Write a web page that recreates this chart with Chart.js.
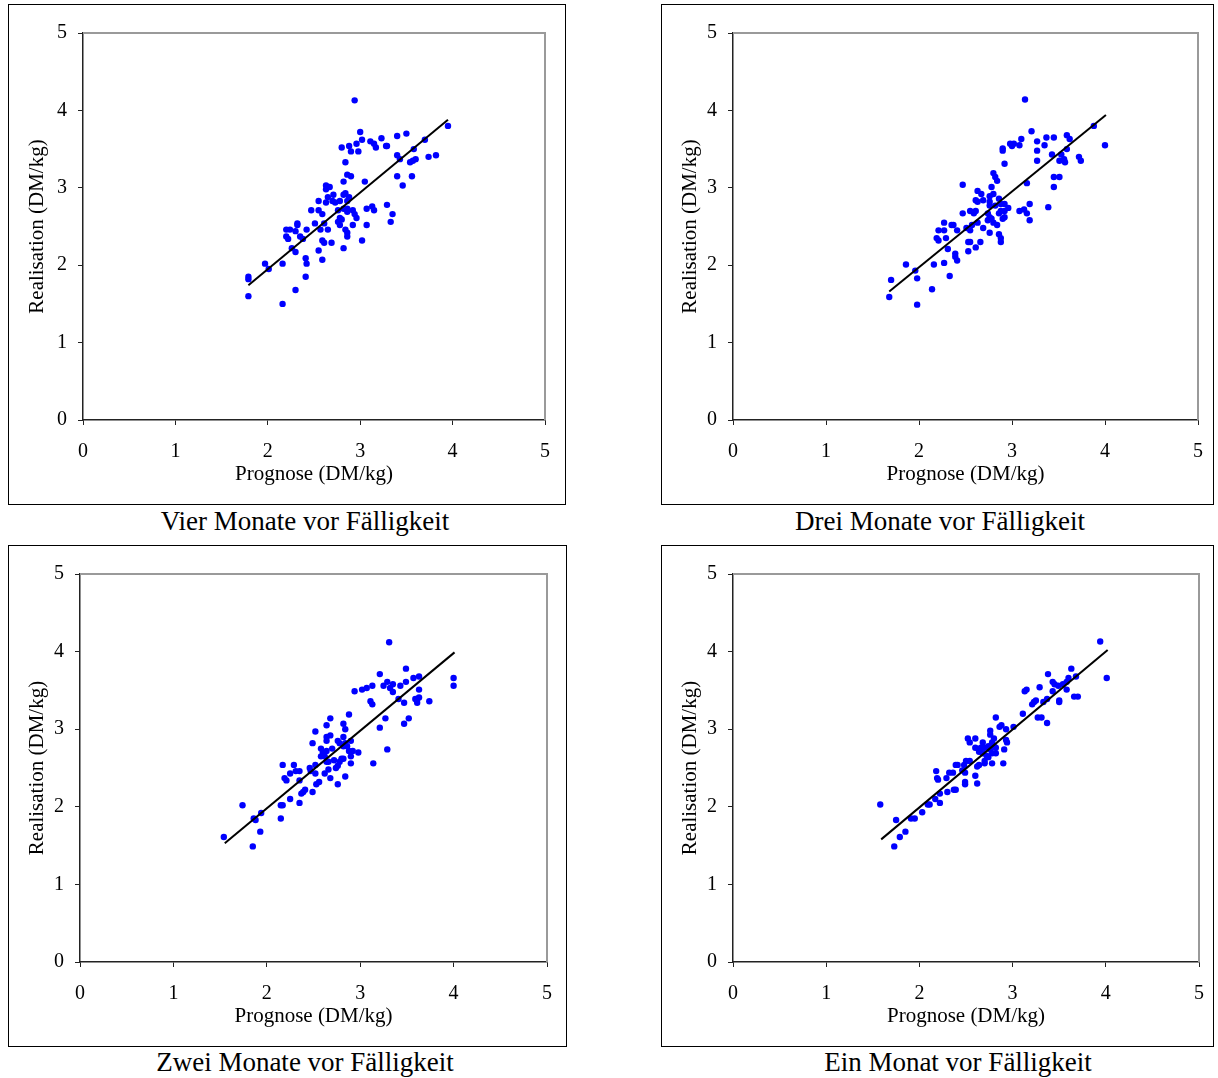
<!DOCTYPE html>
<html>
<head>
<meta charset="utf-8">
<script src="https://cdn.jsdelivr.net/npm/chart.js@4.4.1/dist/chart.umd.min.js"></script>
<style>
  html, body { margin: 0; padding: 0; background: #fff; }
  body { width: 1218px; height: 1078px; position: relative; overflow: hidden; font-family: 'Liberation Serif', 'Times New Roman', serif; }
  .box { position: absolute; border: 1px solid #000; }
  .box canvas { display: block; }
  .cap { position: absolute; font-size: 27px; line-height: 30px; white-space: nowrap; transform: translateX(-50%); color: #000; }
</style>
</head>
<body>
<div class="box" style="left:8px;top:4px;width:556px;height:499px"><canvas id="c1" width="556" height="499"></canvas></div>
<div class="box" style="left:661px;top:4px;width:551px;height:499px"><canvas id="c2" width="551" height="499"></canvas></div>
<div class="box" style="left:8px;top:545px;width:557px;height:500px"><canvas id="c3" width="557" height="500"></canvas></div>
<div class="box" style="left:661px;top:545px;width:551px;height:500px"><canvas id="c4" width="551" height="500"></canvas></div>
<div class="cap" style="left:305px;top:506px">Vier Monate vor Fälligkeit</div>
<div class="cap" style="left:940px;top:506px">Drei Monate vor Fälligkeit</div>
<div class="cap" style="left:305px;top:1047px">Zwei Monate vor Fälligkeit</div>
<div class="cap" style="left:958px;top:1047px">Ein Monat vor Fälligkeit</div>
<script>
// ── Data ────────────────────────────────────────────────────────────────────
const ticks = [0, 1, 2, 3, 4, 5]
const xTitle = 'Prognose (DM/kg)'
const yTitle = 'Realisation (DM/kg)'

// Vier Monate vor Fälligkeit
const vierX = [2.94,3.00,2.80,2.88,2.96,3.02,2.90,2.98,3.11,3.15,3.17,3.23,3.28,3.29,3.40,3.50,3.70,3.95,3.40,3.43,3.58,3.54,3.57,3.60,3.74,3.82,2.84,3.40,3.56,3.46,2.86,2.90,2.82,3.05,2.63,2.67,2.63,2.55,2.65,2.71,2.63,2.70,2.73,2.78,2.82,2.84,2.88,2.86,2.47,2.55,2.59,2.76,2.82,2.86,2.86,2.92,2.94,2.96,3.07,3.13,3.15,3.29,3.35,3.33,2.78,2.76,2.80,2.78,2.84,2.86,2.86,2.92,3.07,3.02,2.82,2.51,2.57,2.65,2.61,2.20,2.24,2.32,2.32,2.30,2.42,2.20,2.22,2.35,2.38,2.59,2.61,2.69,2.26,2.30,2.55,2.41,2.42,2.59,1.97,2.16,2.01,1.79,1.79,2.41,2.30,1.79,2.16]
const vierY = [4.13,3.72,3.52,3.54,3.57,3.62,3.47,3.47,3.60,3.57,3.52,3.64,3.54,3.54,3.67,3.70,3.62,3.80,3.42,3.37,3.50,3.33,3.35,3.37,3.40,3.42,3.33,3.15,3.15,3.03,3.17,3.15,3.08,3.08,3.03,3.01,2.98,2.83,2.88,2.91,2.81,2.83,2.81,2.83,2.91,2.93,2.88,2.83,2.71,2.71,2.66,2.71,2.73,2.73,2.69,2.71,2.66,2.61,2.73,2.76,2.71,2.78,2.66,2.56,2.61,2.56,2.59,2.52,2.46,2.42,2.37,2.52,2.52,2.32,2.22,2.54,2.46,2.46,2.54,2.46,2.46,2.54,2.52,2.44,2.46,2.37,2.34,2.37,2.34,2.32,2.29,2.29,2.22,2.17,2.19,2.09,2.02,2.07,2.02,2.02,1.95,1.85,1.82,1.85,1.68,1.60,1.50]
const vierFitX = [1.79, 3.95]
const vierFitY = [1.74, 3.88]

// Drei Monate vor Fälligkeit
const dreiX = [3.14,3.21,2.98,3.00,3.02,3.08,3.10,2.90,2.90,3.27,3.35,3.37,3.45,3.59,3.62,3.88,4.00,3.27,3.27,3.43,3.53,3.59,3.51,3.56,3.57,3.72,3.74,2.92,2.80,2.82,2.84,3.16,3.45,3.51,3.45,3.39,2.47,2.63,2.78,2.67,2.61,2.63,2.69,2.76,2.80,2.86,2.76,2.76,2.82,2.88,2.92,2.96,2.92,2.88,2.86,2.92,2.90,3.08,3.13,3.16,3.19,3.19,2.47,2.55,2.61,2.59,2.74,2.76,2.74,2.78,2.80,2.84,2.63,2.57,2.51,2.55,2.69,2.76,2.86,2.88,2.88,2.35,2.37,2.27,2.21,2.27,2.41,2.19,2.21,2.29,2.53,2.55,2.66,2.61,2.31,2.53,2.39,2.39,2.41,2.27,2.16,1.86,1.96,1.98,2.33,1.70,2.14,1.68,1.98]
const dreiY = [4.14,3.73,3.57,3.54,3.57,3.55,3.63,3.51,3.48,3.60,3.55,3.65,3.65,3.68,3.63,3.80,3.55,3.48,3.35,3.43,3.43,3.50,3.35,3.37,3.33,3.40,3.35,3.31,3.19,3.14,3.09,3.06,3.14,3.14,3.01,2.75,3.04,2.96,3.01,2.92,2.84,2.82,2.84,2.89,2.92,2.86,2.82,2.77,2.77,2.79,2.79,2.74,2.70,2.70,2.67,2.62,2.60,2.70,2.72,2.67,2.79,2.58,2.67,2.70,2.70,2.67,2.67,2.62,2.58,2.60,2.55,2.52,2.55,2.52,2.48,2.45,2.48,2.42,2.40,2.35,2.30,2.52,2.52,2.55,2.45,2.45,2.45,2.35,2.32,2.35,2.30,2.30,2.30,2.23,2.21,2.18,2.15,2.11,2.06,2.03,2.01,2.01,1.93,1.83,1.86,1.81,1.69,1.59,1.49]
const dreiFitX = [1.68, 4.01]
const dreiFitY = [1.66, 3.94]

// Zwei Monate vor Fälligkeit
const zweiX = [3.31,3.49,3.21,3.63,3.57,3.49,3.29,3.35,3.25,3.32,3.35,3.43,3.13,3.07,3.02,2.94,4.00,4.00,3.63,3.63,3.61,3.59,3.61,3.74,3.47,3.41,3.11,3.13,2.88,3.27,3.52,3.47,3.21,3.29,3.14,2.68,2.82,2.64,2.84,2.52,2.68,2.64,2.64,2.49,2.82,2.76,2.78,2.84,2.90,2.86,2.82,2.58,2.70,2.64,2.60,2.58,2.62,2.88,2.92,2.98,2.90,2.82,2.80,2.72,2.64,2.66,2.78,2.90,2.76,2.74,2.66,2.62,2.68,2.84,2.76,2.46,2.52,2.52,2.47,2.17,2.29,2.25,2.31,2.35,2.19,2.21,2.35,2.56,2.53,2.41,2.39,2.37,2.49,2.25,2.35,2.15,2.17,1.74,1.94,1.86,1.88,2.15,1.93,1.54,1.85]
const zweiY = [4.12,3.78,3.71,3.68,3.66,3.61,3.61,3.58,3.56,3.53,3.48,3.56,3.56,3.53,3.51,3.49,3.66,3.56,3.51,3.41,3.39,3.39,3.34,3.36,3.34,3.39,3.36,3.32,3.19,3.14,3.14,3.07,3.02,2.74,2.56,3.14,3.07,3.05,3.00,2.97,2.92,2.90,2.85,2.82,2.90,2.85,2.82,2.82,2.85,2.78,2.78,2.75,2.75,2.72,2.70,2.65,2.65,2.72,2.72,2.70,2.65,2.62,2.62,2.60,2.58,2.58,2.58,2.56,2.53,2.50,2.48,2.43,2.37,2.39,2.29,2.50,2.54,2.43,2.46,2.54,2.54,2.43,2.46,2.46,2.37,2.34,2.34,2.32,2.29,2.22,2.19,2.17,2.19,2.10,2.05,2.02,2.02,2.02,1.92,1.85,1.83,1.85,1.68,1.61,1.49]
const zweiFitX = [1.55, 4.01]
const zweiFitY = [1.53, 3.99]

// Ein Monat vor Fälligkeit
const einX = [3.94,4.01,3.63,3.38,3.60,3.68,3.43,3.45,3.49,3.54,3.58,3.58,3.43,3.29,3.15,3.13,3.37,3.50,3.50,3.66,3.70,3.25,3.23,3.21,3.33,3.11,3.27,3.31,3.37,2.82,2.88,2.86,2.93,3.01,2.76,2.76,2.52,2.60,2.54,2.68,2.80,2.78,2.94,2.93,2.60,2.66,2.70,2.74,2.80,2.82,2.76,2.64,2.68,2.78,2.82,2.91,2.72,2.74,2.70,2.78,2.70,2.90,2.50,2.54,2.41,2.39,2.48,2.64,2.62,2.46,2.49,2.32,2.36,2.18,2.60,2.29,2.19,2.20,2.49,2.49,2.62,2.39,2.37,2.30,2.22,2.22,2.17,2.11,2.09,2.03,1.91,1.95,1.75,1.85,1.79,1.73,1.58]
const einY = [4.13,3.66,3.78,3.71,3.66,3.68,3.61,3.58,3.56,3.58,3.61,3.51,3.49,3.54,3.51,3.49,3.39,3.37,3.35,3.42,3.42,3.37,3.35,3.32,3.35,3.20,3.15,3.15,3.08,3.15,3.05,3.03,3.00,3.03,2.98,2.93,2.88,2.88,2.83,2.83,2.88,2.83,2.83,2.86,2.76,2.76,2.76,2.78,2.78,2.76,2.74,2.71,2.69,2.69,2.69,2.74,2.66,2.64,2.59,2.56,2.56,2.56,2.59,2.59,2.54,2.54,2.54,2.54,2.52,2.47,2.44,2.44,2.44,2.46,2.40,2.37,2.37,2.35,2.32,2.29,2.30,2.22,2.22,2.19,2.17,2.05,2.10,2.03,2.03,1.93,1.85,1.85,1.83,1.68,1.61,1.49,2.03]
const einFitX = [1.59, 4.02]
const einFitY = [1.58, 4.02]

// ── Chart setup ─────────────────────────────────────────────────────────────
const FONT = "'Liberation Serif', 'Times New Roman', serif"

// gray frame on top and right of the plot area, like the original
const frame = {
  id: 'frame',
  afterDatasetsDraw(chart) {
    const { ctx, chartArea: a } = chart
    ctx.save()
    ctx.strokeStyle = '#9a9a9a'
    ctx.lineWidth = 2
    ctx.beginPath()
    ctx.moveTo(a.left, a.top)
    ctx.lineTo(a.right, a.top)
    ctx.lineTo(a.right, a.bottom)
    ctx.stroke()
    ctx.restore()
  }
}

function pairs(xs, ys) {
  return xs.map((x, i) => ({ x, y: ys[i] }))
}

function panel(id, xs, ys, fx, fy, leftW, rightPad) {
  const axisCommon = {
    min: 0, max: 5,
    afterBuildTicks: s => { s.ticks = ticks.map(v => ({ value: v })) },
    grid: { drawOnChartArea: false, drawTicks: true, tickLength: 5, color: '#222', lineWidth: 1 },
    border: { display: true, color: '#222', width: 1.5 }
  }
  const tickFont = { family: FONT, size: 20 }
  new Chart(document.getElementById(id), {
    type: 'scatter',
    data: {
      datasets: [
        {
          data: pairs(fx, fy),
          showLine: true,
          borderColor: '#000',
          borderWidth: 2,
          pointRadius: 0,
          fill: false
        },
        {
          data: pairs(xs, ys),
          backgroundColor: '#0000ff',
          borderWidth: 0,
          pointRadius: 3.2
        }
      ]
    },
    options: {
      responsive: false,
      animation: false,
      devicePixelRatio: 1,
      layout: { padding: { top: 28, right: rightPad, left: 0, bottom: 0 } },
      plugins: { legend: { display: false }, tooltip: { enabled: false } },
      scales: {
        x: {
          ...axisCommon,
          type: 'linear',
          position: 'bottom',
          ticks: { color: '#000', font: tickFont, padding: 15 },
          // fixed height, and no extra room for the edge labels
          afterFit: s => { s.height = 84; s.paddingLeft = 0; s.paddingRight = 0 },
          title: { display: true, text: xTitle, color: '#000', font: { family: FONT, size: 21 }, padding: { top: 0, bottom: 17 } }
        },
        y: {
          ...axisCommon,
          type: 'linear',
          position: 'left',
          ticks: { color: '#000', font: tickFont, padding: 11 },
          afterFit: s => { s.width = leftW; s.paddingTop = 0; s.paddingBottom = 0 },
          title: { display: true, text: yTitle, color: '#000', font: { family: FONT, size: 21 }, padding: { top: 16, bottom: 0 } }
        }
      }
    },
    plugins: [frame]
  })
}

panel('c1', vierX, vierY, vierFitX, vierFitY, 74, 20)
panel('c2', dreiX, dreiY, dreiFitX, dreiFitY, 71, 15)
panel('c3', zweiX, zweiY, zweiFitX, zweiFitY, 71, 19)
panel('c4', einX, einY, einFitX, einFitY, 71, 14)
</script>
</body>
</html>
